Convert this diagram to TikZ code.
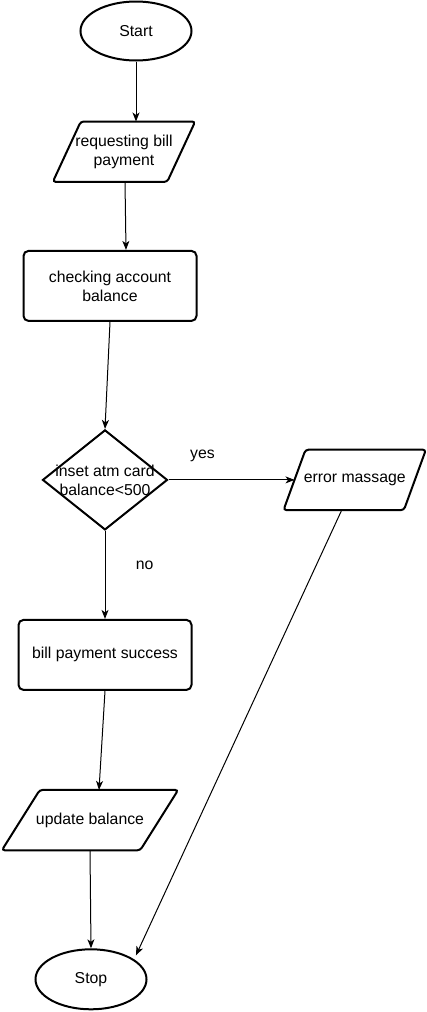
\documentclass[tikz,border=0pt]{standalone}
\usepackage{fontspec}
\setmainfont{Liberation Sans}
\usetikzlibrary{shapes.geometric,arrows.meta,positioning}

\tikzset{
  terminal/.style={ellipse, draw, line width=2pt, minimum width=111pt, minimum height=59pt, inner sep=0pt},
  io/.style={rectangle, minimum width=142pt, minimum height=60pt, inner sep=1pt, align=center},
  ioline/.style={draw, line width=2pt, rounded corners=3pt},
  process/.style={rectangle, draw, line width=2pt, rounded corners=5pt, minimum width=173pt, minimum height=70pt, align=center},
  decision/.style={diamond, draw, line width=2pt, minimum width=125pt, minimum height=100pt, inner sep=0pt},
  flow/.style={-{Stealth[length=9pt,width=7pt,inset=2.5pt]}, line width=1pt},
}
% parallelogram outline round a node: name, slant
\newcommand{\ioshape}[2]{%
  \draw[ioline] (#1.south west) -- ([xshift=#2]#1.north west) -- (#1.north east)
    -- ([xshift=-#2]#1.south east) -- cycle;}

\begin{document}
\begin{tikzpicture}[x=1pt, y=1pt, font=\fontsize{15.8}{19}\selectfont]
  \useasboundingbox (0,0) rectangle (427,-1012);

  \node[terminal] (start) at (136,-31) {Start};
  \node[io] (req) [below=60pt of start, xshift=-12pt] {requesting bill\\payment};
  \node[process] (chk) [below=68pt of req, xshift=-14pt] {checking account\\balance};
  \node[decision] (dec) [below=107pt of chk, xshift=-5pt,
    label={[align=center]center:inset atm card\\balance<500}] {};
  \node[io] (err) [right=115pt of dec] {error massage};
  \node[process] (bill) [below=88pt of dec] {bill payment success};
  \node[io, minimum width=176pt] (upd) [below=99pt of bill, xshift=-15pt] {update balance};
  \node[terminal, minimum height=60pt] (stop) [below=98pt of upd, xshift=1pt] {Stop};

  \ioshape{req}{28pt}
  \ioshape{err}{22pt}
  \ioshape{upd}{38pt}

  % connectors
  \draw[flow] (start.south) -- (start.south |- req.north);
  \draw[flow] ([xshift=1pt]req.south) -- ([xshift=16pt]chk.north);
  \draw[flow] (chk.south) -- (dec.north);
  \draw[flow] (dec.east) -- node[above=14pt, pos=0.27] {yes} ([xshift=11pt]err.west);
  \draw[flow] (dec.south) -- node[right=27pt, pos=0.39] {no} (bill.north);
  \draw[flow] (bill.south) -- ([xshift=9pt]upd.north);
  \draw[flow] (upd.south) -- (stop.north);
  \draw[flow] ([xshift=-13pt]err.south) -- ([xshift=5pt,yshift=2pt]stop.north east);
\end{tikzpicture}
\end{document}
